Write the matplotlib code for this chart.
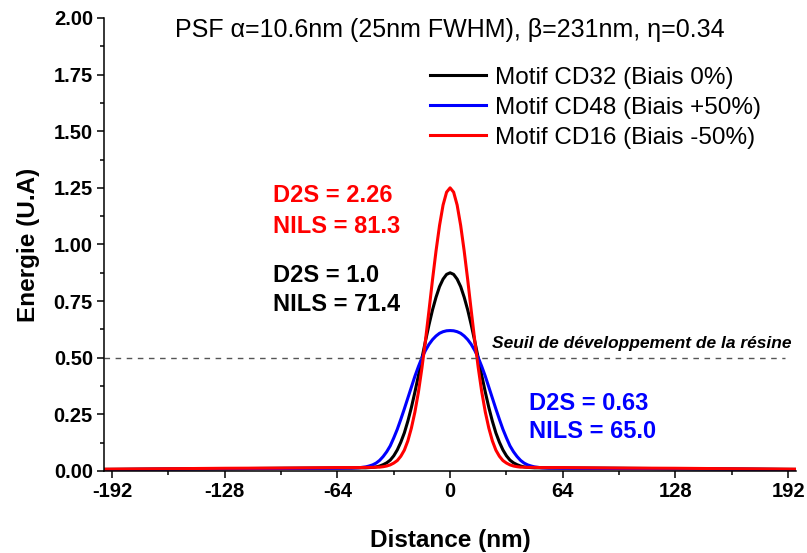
import matplotlib
matplotlib.use("Agg")
import matplotlib.pyplot as plt
from matplotlib.ticker import MultipleLocator

plt.rcParams['font.family'] = ['Liberation Sans', 'DejaVu Sans']
plt.rcParams['axes.unicode_minus'] = False

# Distance (nm), shared by the three profiles
distance = [-197, -160, -128, -96, -64, -56, -52, -48, -46, -44, -42, -40, -38, -36,
            -34, -32, -30, -28, -26, -24, -22, -20, -18, -16, -14, -12, -10, -8, -6,
            -4, -2, 0, 2, 4, 6, 8, 10, 12, 14, 16, 18, 20, 22, 24, 26, 28, 30, 32, 34,
            36, 38, 40, 42, 44, 46, 48, 52, 56, 64, 96, 128, 160, 197]

# Energie
cd32 = [0.007, 0.009, 0.010, 0.012, 0.013, 0.013, 0.014, 0.014, 0.015, 0.016, 0.018,
        0.022, 0.028, 0.036, 0.048, 0.067, 0.093, 0.127, 0.168, 0.220, 0.280, 0.348,
        0.421, 0.498, 0.573, 0.645, 0.711, 0.767, 0.814, 0.847, 0.868, 0.875, 0.868,
        0.847, 0.814, 0.767, 0.711, 0.645, 0.573, 0.498, 0.421, 0.348, 0.280, 0.220,
        0.168, 0.127, 0.093, 0.067, 0.048, 0.036, 0.028, 0.022, 0.018, 0.016, 0.015,
        0.014, 0.014, 0.013, 0.013, 0.012, 0.010, 0.009, 0.007]
cd48 = [0.006, 0.008, 0.010, 0.011, 0.012, 0.013, 0.014, 0.018, 0.022, 0.027, 0.035,
        0.047, 0.064, 0.085, 0.111, 0.146, 0.184, 0.228, 0.274, 0.322, 0.370, 0.418,
        0.461, 0.500, 0.532, 0.559, 0.580, 0.596, 0.608, 0.615, 0.619, 0.620, 0.619,
        0.615, 0.608, 0.596, 0.580, 0.559, 0.532, 0.500, 0.461, 0.418, 0.370, 0.322,
        0.274, 0.228, 0.184, 0.146, 0.111, 0.085, 0.064, 0.047, 0.035, 0.027, 0.022,
        0.018, 0.014, 0.013, 0.012, 0.011, 0.010, 0.008, 0.006]
cd16 = [0.008, 0.010, 0.012, 0.013, 0.015, 0.015, 0.015, 0.016, 0.016, 0.016, 0.017,
        0.017, 0.019, 0.022, 0.027, 0.035, 0.046, 0.065, 0.092, 0.133, 0.189, 0.260,
        0.348, 0.455, 0.576, 0.708, 0.844, 0.971, 1.084, 1.174, 1.231, 1.250, 1.231,
        1.174, 1.084, 0.971, 0.844, 0.708, 0.576, 0.455, 0.348, 0.260, 0.189, 0.133,
        0.092, 0.065, 0.046, 0.035, 0.027, 0.022, 0.019, 0.017, 0.017, 0.016, 0.016,
        0.016, 0.015, 0.015, 0.015, 0.013, 0.012, 0.010, 0.008]

labels = ["Motif CD32 (Biais 0%)", "Motif CD48 (Biais +50%)", "Motif CD16 (Biais -50%)"]
colors = ["black", "#0000ff", "#ff0000"]
threshold = 0.5
xticks = [-192, -128, -64, 0, 64, 128, 192]

fig = plt.figure(figsize=(8.07, 5.53), dpi=100)
ax = fig.add_axes([0.129, 0.1483, 0.8575, 0.8192])

for y, c, lab in zip([cd32, cd48, cd16], colors, labels):
    ax.plot(distance, y, color=c, lw=2.2, label=lab, solid_joinstyle='round')

ax.hlines(threshold, -196.5, 190, colors='#555555', lw=1.0, linestyles=(0, (4, 4)))

ax.set_xlim(-196.5, 196.5)
ax.set_ylim(0, 2.0)
ax.set_xticks(xticks)
ax.xaxis.set_minor_locator(MultipleLocator(32))
ax.yaxis.set_major_locator(MultipleLocator(0.25))
ax.yaxis.set_minor_locator(MultipleLocator(0.125))
ax.yaxis.set_major_formatter(matplotlib.ticker.FormatStrFormatter('%.2f'))

for s in ['top', 'right']:
    ax.spines[s].set_visible(False)
for s in ['left', 'bottom']:
    ax.spines[s].set_linewidth(1.1)
ax.tick_params(which='major', direction='out', length=5, width=1.1, labelsize=14.5, pad=3)
ax.tick_params(which='minor', direction='out', length=3, width=1.1)
for t in ax.get_xticklabels() + ax.get_yticklabels():
    t.set_fontweight('bold')

ax.set_xlabel("Distance (nm)", fontsize=17.5, fontweight='bold', labelpad=20)
ax.set_ylabel("Energie (U.A)", fontsize=17.5, fontweight='bold', labelpad=10)

ax.text(0, 1.945, "PSF \u03b1=10.6nm (25nm FWHM), \u03b2=231nm, \u03b7=0.34",
        ha='center', va='center', fontsize=18)

ax.legend(loc='upper left', bbox_to_anchor=(0.471, 0.892), frameon=False,
          fontsize=17.5, handlelength=2.3, handletextpad=0.38, labelspacing=0.33,
          borderaxespad=0, borderpad=0)

ax.text(-100.8, 1.215, "D2S = 2.26", color='#ff0000', fontsize=17, fontweight='bold', va='center')
ax.text(-100.8, 1.080, "NILS = 81.3", color='#ff0000', fontsize=17, fontweight='bold', va='center')
ax.text(-100.8, 0.862, "D2S = 1.0", color='black', fontsize=17, fontweight='bold', va='center')
ax.text(-100.8, 0.735, "NILS = 71.4", color='black', fontsize=17, fontweight='bold', va='center')
ax.text(44.9, 0.300, "D2S = 0.63", color='#0000ff', fontsize=17, fontweight='bold', va='center')
ax.text(44.9, 0.175, "NILS = 65.0", color='#0000ff', fontsize=17, fontweight='bold', va='center')
ax.text(23.7, 0.565, "Seuil de d\u00e9veloppement de la r\u00e9sine", fontsize=12.5,
        fontweight='bold', fontstyle='italic', va='center')

fig.savefig("out.png", dpi=100)
